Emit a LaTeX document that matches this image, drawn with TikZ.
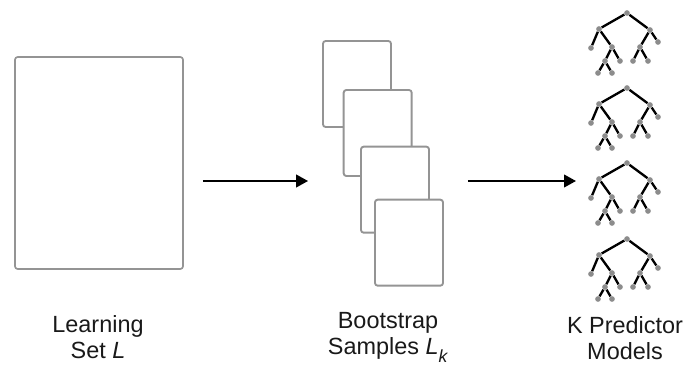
\documentclass[tikz,border=0pt]{standalone}
\usepackage{fontspec}
\setmainfont{Liberation Sans}
\usetikzlibrary{arrows.meta,positioning}

\newcommand{\subk}{\raisebox{-0.3em}{\fontsize{15}{15}\selectfont\textit{k}}}

\tikzset{
	sheet/.style	= {draw=black!42, line width=1.6pt, fill=white, rounded corners=0.08cm,
			   minimum width=2.04cm, minimum height=2.58cm, inner sep=0pt},
	flow/.style	= {-{Triangle[length=0.36cm, width=0.38cm]}, line width=1.8pt, black},
	caption/.style	= {anchor=base, align=center, text=black!90,
			   font=\fontsize{20}{23}\selectfont},
	knot/.style	= {circle, fill=black!45, inner sep=0pt, minimum size=0.17cm},
	branch/.style	= {line width=2pt, black},
	% one small decision tree, root at the pic origin
	pics/dtree/.style = {code={
		\foreach \k/\px/\py in {r/0/0, a/-28/16, b/23/17,
				aa/-36/35, ab/-15/34, aba/-22/48, abb/-7/48,
				abaa/-29/60, abab/-15/60,
				bb/31/29, ba/13/34, baa/6/48, bab/21/48}
			\node[knot] (-\k) at (\px,\py) {};
		\draw[branch]
			(-r) -- (-a)	(-r) -- (-b)
			(-a) -- (-aa)	(-a) -- (-ab)
			(-ab) -- (-aba)	(-ab) -- (-abb)
			(-aba) -- (-abaa)	(-aba) -- (-abab)
			(-b) -- (-bb)	(-b) -- (-ba)
			(-ba) -- (-baa)	(-ba) -- (-bab);
	}}
}

\begin{document}
\begin{tikzpicture}[x=0.03cm, y=-0.03cm, on grid]
	\useasboundingbox (0,0) rectangle (686,369);

	% learning set
	\node	(learn)	[sheet, minimum width=5.04cm, minimum height=6.36cm, line width=1.4pt] at (99,163) {};

	% bootstrap samples, stacked
	\node	(s1)	[sheet] at (357,84) {};
	\node	(s2)	[sheet, below right=1.47cm and 0.62cm of s1] {};
	\node	(s3)	[sheet, below right=1.70cm and 0.52cm of s2] {};
	\node	(s4)	[sheet, below right=1.59cm and 0.42cm of s3] {};

	% predictor models
	\foreach \i/\ty in {1/13, 2/88, 3/163, 4/239}
		\pic (tree\i) at (627,\ty) {dtree};

	\coordinate (models) at (591,181);

	\draw[flow, shorten <=0.57cm, shorten >=0.42cm] (learn.east |- models) -- (s1.west |- models);
	\draw[flow, shorten <=0.72cm, shorten >=0.45cm] (s4.east |- models) -- (models);

	% captions, anchored on their last line
	\node	(lbl1)	[caption] at (98,359)	{Learning\\Set \textit{L}};
	\node	(lbl2)	[caption] at (388,355)	{Bootstrap\\Samples \textit{L}\subk};
	\node	(lbl3)	[caption] at (625,360)	{K Predictor\\Models};
\end{tikzpicture}
\end{document}
